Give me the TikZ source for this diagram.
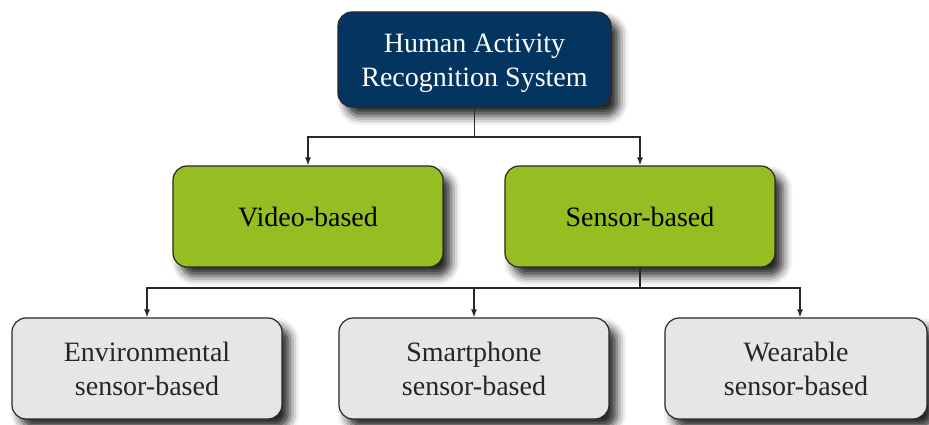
\documentclass[tikz,border=0pt]{standalone}
\usepackage{fontspec}
\setmainfont{Liberation Serif}
\usepackage{xcolor}
\usetikzlibrary{positioning, arrows.meta, calc, shadows, shadows.blur}

\definecolor{harnavy}{RGB}{4,52,96}
\definecolor{hargreen}{RGB}{149,190,34}
\definecolor{hargray}{RGB}{230,230,230}
\definecolor{harline}{RGB}{40,40,40}

\begin{document}
\begin{tikzpicture}[x=1pt, y=-1pt,
    topbox/.style={rectangle, rounded corners=14pt, fill=harnavy, draw=harline,
                   minimum width=273pt, minimum height=95pt, align=center,
                   text=white, font=\fontsize{28}{34}\selectfont, line width=1.2pt,
                   blur shadow={shadow xshift=8pt, shadow yshift=-9pt,
                                shadow blur radius=9pt, shadow opacity=85}},
    kindbox/.style={rectangle, rounded corners=14pt, fill=hargreen, draw=harline,
                    minimum width=270pt, minimum height=101pt, align=center,
                    text=black, font=\fontsize{28}{34}\selectfont, line width=1.2pt,
                    blur shadow={shadow xshift=8pt, shadow yshift=-9pt,
                                 shadow blur radius=9pt, shadow opacity=85}},
    leafbox/.style={rectangle, rounded corners=14pt, fill=hargray, draw=harline,
                    minimum width=270pt, minimum height=101pt, align=center,
                    text=black!85, font=\fontsize{28}{34}\selectfont, line width=1.2pt,
                    blur shadow={shadow xshift=8pt, shadow yshift=-9pt,
                                 shadow blur radius=9pt, shadow opacity=85}},
    arr/.style={-{Latex[length=8pt, width=6pt]}, harline, line width=1.2pt},
    lnk/.style={harline, line width=1.2pt},
]
\useasboundingbox (0,0) rectangle (929,425);

% Root
\node[topbox, text height=61pt] (har) at (474.5, 59.5) {Human Activity\\Recognition System};

% Second level
\node[kindbox] (video)  at (308, 216.5) {Video-based};
\node[kindbox] (sensor) at (640, 216.5) {Sensor-based};
\coordinate (hbus) at (474.5, 137);
\draw[lnk] (har) -- (hbus);
\draw[arr] (hbus) -| (video);
\draw[arr] (hbus) -| (sensor);

% Sensor types
\node[leafbox] (env)   at (147, 368.5) {Environmental\\sensor-based};
\node[leafbox] (phone) at (474, 368.5) {Smartphone\\sensor-based};
\node[leafbox, minimum width=262pt] (wear) at (796, 368.5) {Wearable\\sensor-based};
\coordinate (sbus) at (640, 288);
\draw[lnk] (sensor) -- (sbus);
\draw[arr] (sbus) -| (env);
\draw[arr] (sbus) -| (phone);
\draw[arr] (sbus) -| ([xshift=4pt]wear.north);

\end{tikzpicture}
\end{document}
